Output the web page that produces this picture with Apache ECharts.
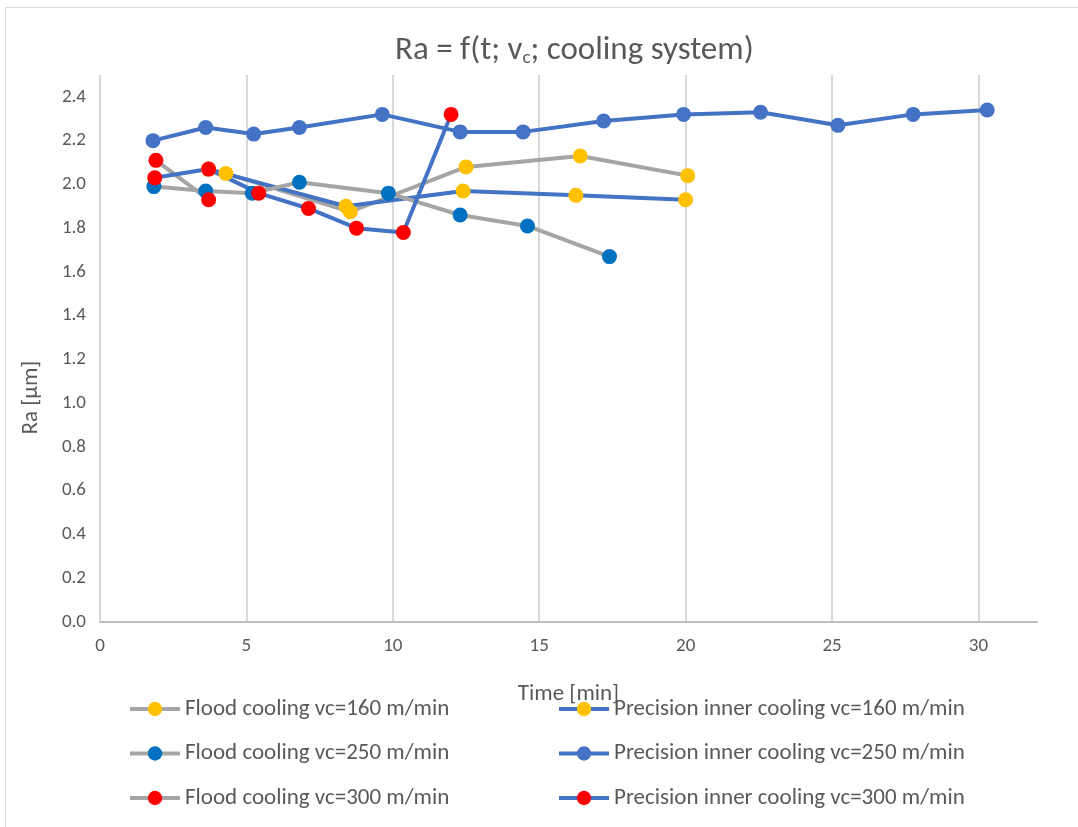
<!DOCTYPE html>
<html>
<head>
    <meta charset="utf-8">
    <title>Ra = f(t; vc; cooling system)</title>
    <style>
        html,body{ margin:0; padding:0; background:#fff; }
    </style>
</head>
<body>
<script src="https://cdn.jsdelivr.net/npm/echarts@6/dist/echarts.min.js"></script>
<div id="main" style="width:1078px;height:827px;"></div>
<script type="text/javascript">
    var myChart = echarts.init(document.getElementById('main'));

    // series names (legend)
    var names = [
        'Flood cooling vc=160 m/min',
        'Precision inner cooling vc=160 m/min',
        'Flood cooling vc=250 m/min',
        'Precision inner cooling vc=250 m/min',
        'Flood cooling vc=300 m/min',
        'Precision inner cooling vc=300 m/min'
    ];

    // time [min] / Ra [um]
    var flood160T  = [4.3, 8.55, 12.5, 16.4, 20.07];
    var flood160Ra = [2.05, 1.875, 2.08, 2.13, 2.04];

    var prec160T  = [3.7, 8.4, 12.4, 16.25, 20.0];
    var prec160Ra = [2.07, 1.90, 1.97, 1.95, 1.93];

    var flood250T  = [1.84, 3.61, 5.2, 6.81, 9.85, 12.3, 14.6, 17.4];
    var flood250Ra = [1.99, 1.97, 1.96, 2.01, 1.96, 1.86, 1.81, 1.67];

    var prec250T  = [1.81, 3.61, 5.25, 6.81, 9.64, 12.3, 14.45, 17.2, 19.93, 22.56, 25.2, 27.77, 30.3];
    var prec250Ra = [2.20, 2.26, 2.23, 2.26, 2.32, 2.24, 2.24, 2.29, 2.32, 2.33, 2.27, 2.32, 2.34];

    var flood300T  = [1.91, 3.71];
    var flood300Ra = [2.11, 1.93];

    var prec300T  = [1.87, 3.71, 5.42, 7.12, 8.76, 10.36, 11.99];
    var prec300Ra = [2.03, 2.07, 1.96, 1.89, 1.80, 1.78, 2.32];

    var xTicks = [0, 5, 10, 15, 20, 25, 30];

    var GRAY = '#A5A5A5', BLUE = '#4472C4';
    var TXT = '#595959';
    var FONT = 'Carlito, Calibri, Lato, sans-serif';

    function pairs(t, ra) {
        return t.map(function (v, i) { return [v, ra[i]]; });
    }

    function line(name, t, ra, lineColor, dotColor) {
        return {
            name: name,
            type: 'line',
            data: pairs(t, ra),
            symbol: 'circle',
            symbolSize: 15,
            showAllSymbol: true,
            lineStyle: { color: lineColor, width: 4 },
            itemStyle: { color: dotColor, borderColor: dotColor, borderWidth: 0 },
            emphasis: { disabled: true }
        };
    }

    var legendText = { color: TXT, fontSize: 23, fontFamily: FONT, lineHeight: 26 };

    function legendAt(left, data) {
        return {
            orient: 'vertical',
            left: left,
            top: 696,
            padding: 0,
            itemWidth: 50,
            itemHeight: 18,
            itemGap: 18.5,
            itemTextGap: 5,
            lineStyle: { width: 4 },
            textStyle: legendText,
            data: data
        };
    }

    myChart.setOption({
        animation: false,
        textStyle: { fontFamily: FONT },
        title: {
            text: 'Ra = f(t; v{sub|c}; cooling system)',
            left: 390,
            top: 28,
            textStyle: {
                color: TXT, fontSize: 33, fontWeight: 'normal', fontFamily: FONT,
                rich: {
                    sub: { fontSize: 19, color: TXT, fontFamily: FONT, padding: [16, 0, 0, 0], verticalAlign: 'top' }
                }
            }
        },
        graphic: [{
            type: 'rect',
            shape: { x: 5.5, y: 7.5, width: 1200, height: 1000 },
            style: { fill: 'none', stroke: '#D9D9D9', lineWidth: 1 },
            silent: true
        }],
        legend: [
            legendAt(128, [names[0], names[2], names[4]]),
            legendAt(557, [names[1], names[3], names[5]])
        ],
        grid: { left: 100, right: 41, top: 75, bottom: 205 },
        xAxis: {
            type: 'value',
            min: 0,
            max: 32,
            interval: 5,
            name: 'Time [min]',
            nameLocation: 'middle',
            nameGap: 61,
            nameTextStyle: { color: TXT, fontSize: 23, fontFamily: FONT },
            axisLine: { show: true, lineStyle: { color: '#BFBFBF', width: 2 } },
            axisTick: { show: false },
            axisLabel: {
                color: TXT, fontSize: 19, fontFamily: FONT, margin: 15,
                showMaxLabel: false,
                formatter: function (v) { return xTicks.indexOf(v) >= 0 ? String(v) : ''; }
            },
            splitLine: { show: true, showMaxLine: false, lineStyle: { color: '#D9D9D9', width: 2 } }
        },
        yAxis: {
            type: 'value',
            min: 0,
            max: 2.5,
            interval: 0.2,
            name: 'Ra [µm]',
            nameLocation: 'middle',
            nameGap: 57,
            nameTextStyle: { color: TXT, fontSize: 23, fontFamily: FONT, padding: [0, 98, 0, 0] },
            axisLine: { show: false },
            axisTick: { show: false },
            axisLabel: {
                color: TXT, fontSize: 19, fontFamily: FONT, margin: 14,
                showMaxLabel: false,
                formatter: function (v) { return v.toFixed(1); }
            },
            splitLine: { show: false }
        },
        series: [
            line(names[0], flood160T, flood160Ra, GRAY, '#FFC000'),
            line(names[1], prec160T, prec160Ra, BLUE, '#FFC000'),
            line(names[2], flood250T, flood250Ra, GRAY, '#0070C0'),
            line(names[3], prec250T, prec250Ra, BLUE, BLUE),
            line(names[4], flood300T, flood300Ra, GRAY, '#FF0000'),
            line(names[5], prec300T, prec300Ra, BLUE, '#FF0000')
        ]
    });
</script>
</body>
</html>
